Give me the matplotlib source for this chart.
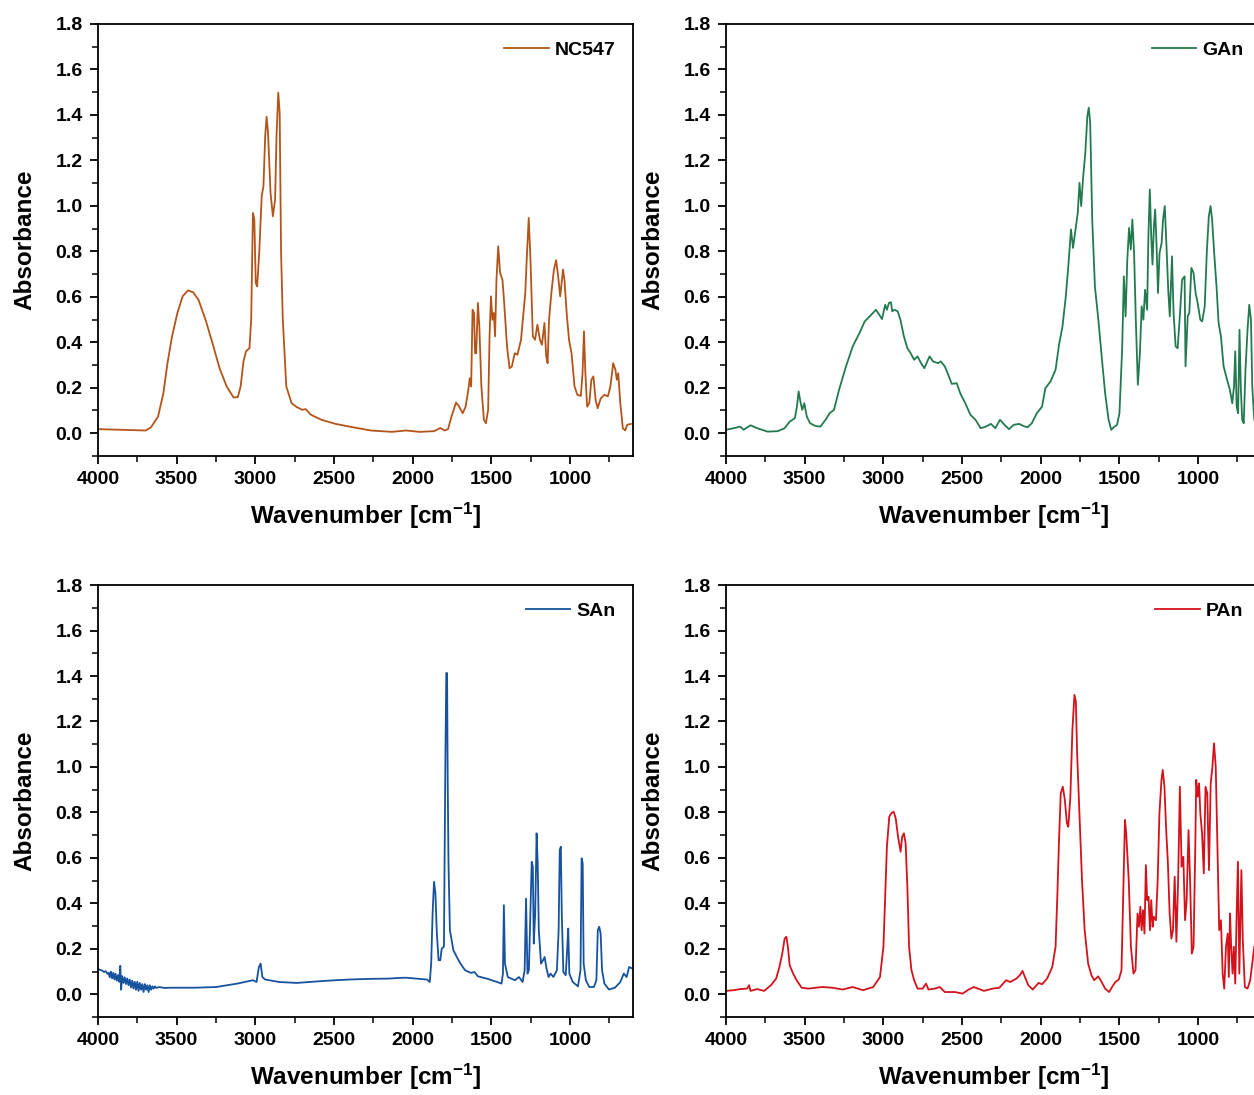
import matplotlib
matplotlib.use("Agg")
import matplotlib.pyplot as plt
from matplotlib.ticker import MultipleLocator

plt.rcParams['font.family'] = ['Liberation Sans', 'DejaVu Sans']
plt.rcParams['font.weight'] = 'bold'
plt.rcParams['mathtext.fontset'] = 'custom'
plt.rcParams['mathtext.rm'] = 'Liberation Sans:bold'
plt.rcParams['mathtext.bf'] = 'Liberation Sans:bold'
plt.rcParams['mathtext.default'] = 'bf'

# NC547 spectrum
nc547_wn = [4000, 3696, 3663, 3618, 3584, 3558, 3529, 3495, 3462, 3428, 3395, 3361, 3316, 3272, 3227,
            3182, 3138, 3111, 3093, 3075, 3059, 3037, 3026, 3015, 3006, 2997, 2988, 2975, 2959, 2948,
            2937, 2928, 2919, 2903, 2888, 2874, 2865, 2854, 2845, 2836, 2825, 2803, 2769, 2736, 2702,
            2680, 2646, 2579, 2490, 2378, 2266, 2132, 2043, 1954, 1864, 1824, 1797, 1775, 1753, 1724,
            1704, 1682, 1663, 1646, 1637, 1628, 1619, 1610, 1603, 1596, 1585, 1576, 1563, 1547, 1534,
            1520, 1511, 1502, 1493, 1484, 1476, 1467, 1456, 1444, 1429, 1418, 1400, 1384, 1369, 1351,
            1334, 1311, 1284, 1273, 1262, 1251, 1236, 1222, 1207, 1191, 1178, 1162, 1151, 1142, 1133,
            1118, 1102, 1088, 1075, 1062, 1044, 1035, 1021, 1006, 990, 971, 953, 931, 920, 911, 902,
            891, 877, 864, 851, 837, 824, 804, 781, 759, 743, 725, 711, 702, 693, 680, 664, 649, 636, 613]
nc547_abs = [0.018, 0.012, 0.026, 0.073, 0.176, 0.308, 0.426, 0.529, 0.602, 0.628, 0.620, 0.587, 0.499, 0.396, 0.286,
             0.206, 0.157, 0.159, 0.206, 0.316, 0.360, 0.374, 0.499, 0.969, 0.940, 0.661, 0.646, 0.793, 1.043, 1.087,
             1.307, 1.392, 1.322, 1.057, 0.954, 1.028, 1.307, 1.498, 1.410, 0.793, 0.499, 0.206, 0.132, 0.115, 0.103,
             0.106, 0.081, 0.059, 0.041, 0.026, 0.012, 0.006, 0.012, 0.006, 0.009, 0.023, 0.012, 0.018, 0.073, 0.135,
             0.117, 0.088, 0.117, 0.191, 0.242, 0.206, 0.543, 0.529, 0.352, 0.352, 0.573, 0.470, 0.206, 0.059, 0.044,
             0.103, 0.426, 0.602, 0.499, 0.529, 0.426, 0.675, 0.822, 0.705, 0.675, 0.573, 0.382, 0.286, 0.294, 0.352,
             0.345, 0.411, 0.617, 0.793, 0.947, 0.764, 0.426, 0.411, 0.477, 0.411, 0.389, 0.485, 0.338, 0.308, 0.499,
             0.617, 0.720, 0.761, 0.690, 0.602, 0.720, 0.675, 0.529, 0.411, 0.352, 0.206, 0.169, 0.164, 0.264, 0.448, 0.264,
             0.117, 0.132, 0.235, 0.250, 0.147, 0.110, 0.154, 0.169, 0.162, 0.206, 0.308, 0.279, 0.235, 0.264, 0.132, 0.022, 0.012, 0.037, 0.041]

# GAn spectrum
gan_wn = [4000, 3952, 3909, 3887, 3844, 3801, 3736, 3671, 3627, 3595, 3562, 3549, 3538, 3525, 3515, 3502,
          3486, 3465, 3432, 3400, 3367, 3341, 3313, 3281, 3237, 3194, 3151, 3118, 3086, 3047, 3025, 3008,
          2988, 2977, 2964, 2951, 2943, 2930, 2908, 2891, 2869, 2847, 2826, 2804, 2782, 2760, 2739, 2706,
          2684, 2652, 2635, 2609, 2587, 2565, 2533, 2511, 2479, 2446, 2414, 2381, 2349, 2316, 2288, 2258,
          2230, 2201, 2171, 2136, 2110, 2084, 2056, 2024, 1991, 1970, 1937, 1905, 1883, 1861, 1840, 1824,
          1807, 1794, 1781, 1764, 1753, 1742, 1731, 1716, 1703, 1694, 1685, 1672, 1655, 1633, 1612, 1590,
          1568, 1551, 1536, 1514, 1499, 1482, 1471, 1460, 1449, 1438, 1427, 1417, 1406, 1395, 1382, 1369,
          1358, 1347, 1336, 1323, 1315, 1306, 1297, 1289, 1280, 1272, 1263, 1254, 1244, 1231, 1222, 1211,
          1200, 1189, 1179, 1165, 1155, 1142, 1129, 1114, 1101, 1085, 1079, 1065, 1055, 1042, 1028, 1015,
          1002, 985, 973, 957, 944, 931, 920, 910, 897, 882, 869, 854, 837, 815, 797, 782, 771, 763, 754,
          745, 736, 728, 719, 709, 698, 685, 674, 663, 655, 642]
gan_abs = [0.015, 0.022, 0.029, 0.015, 0.035, 0.022, 0.007, 0.009, 0.022, 0.051, 0.066, 0.117, 0.184, 0.132, 0.103, 0.132,
           0.073, 0.044, 0.032, 0.029, 0.059, 0.088, 0.103, 0.191, 0.294, 0.382, 0.441, 0.492, 0.514, 0.543, 0.521, 0.502,
           0.565, 0.543, 0.573, 0.576, 0.536, 0.543, 0.536, 0.499, 0.426, 0.374, 0.352, 0.323, 0.338, 0.308, 0.286, 0.338,
           0.316, 0.308, 0.316, 0.294, 0.257, 0.217, 0.220, 0.176, 0.132, 0.081, 0.059, 0.022, 0.029, 0.041, 0.022, 0.059,
           0.037, 0.018, 0.037, 0.041, 0.032, 0.026, 0.044, 0.088, 0.117, 0.198, 0.228, 0.279, 0.389, 0.470, 0.602, 0.734,
           0.896, 0.815, 0.881, 0.969, 1.101, 0.999, 1.116, 1.233, 1.395, 1.432, 1.366, 0.940, 0.646, 0.499, 0.338, 0.176,
           0.059, 0.015, 0.026, 0.037, 0.088, 0.367, 0.690, 0.514, 0.764, 0.903, 0.808, 0.940, 0.793, 0.499, 0.213, 0.352,
           0.558, 0.499, 0.631, 0.543, 0.866, 1.072, 0.866, 0.742, 0.911, 0.984, 0.822, 0.617, 0.793, 0.837, 0.940, 0.999,
           0.822, 0.631, 0.514, 0.778, 0.529, 0.382, 0.374, 0.529, 0.675, 0.690, 0.294, 0.514, 0.529, 0.727, 0.705, 0.617,
           0.573, 0.499, 0.492, 0.558, 0.793, 0.954, 0.999, 0.940, 0.793, 0.646, 0.485, 0.426, 0.294, 0.235, 0.191, 0.132, 0.206, 0.360, 0.117,
           0.088, 0.455, 0.206, 0.059, 0.044, 0.279, 0.455, 0.565, 0.499, 0.206, 0.059]

# SAn spectrum
san_wn = [4000, 3990, 3975, 3960, 3950, 3940, 3932, 3925, 3918, 3910, 3902, 3895, 3888, 3880, 3872,
          3864, 3858, 3853, 3846, 3838, 3830, 3822, 3814, 3806, 3798, 3790, 3782, 3774, 3766, 3758,
          3750, 3742, 3734, 3726, 3718, 3710, 3702, 3694, 3686, 3678, 3670, 3662, 3654, 3646, 3638,
          3630, 3610, 3580, 3540, 3517, 3383, 3249, 3115, 3015, 2992, 2977, 2966, 2955, 2937, 2847, 2736, 2601, 2490,
          2400, 2266, 2155, 2088, 2043, 1976, 1909, 1891, 1882, 1873, 1864, 1855, 1846, 1835, 1824, 1815,
          1801, 1792, 1786, 1781, 1777, 1772, 1763, 1741, 1719, 1696, 1667, 1629, 1607, 1585, 1529, 1462,
          1435, 1426, 1420, 1413, 1395, 1350, 1324, 1301, 1288, 1279, 1270, 1261, 1252, 1243, 1236, 1230,
          1221, 1212, 1205, 1198, 1184, 1171, 1161, 1149, 1136, 1123, 1105, 1083, 1072, 1065, 1058, 1052,
          1042, 1027, 1018, 1011, 1004, 982, 949, 933, 926, 919, 913, 899, 877, 848, 832, 823, 814, 805,
          796, 781, 752, 714, 680, 658, 640, 624, 602]
san_abs = [0.113, 0.108, 0.105, 0.098, 0.102, 0.090, 0.095, 0.075, 0.100, 0.070, 0.095, 0.065, 0.090, 0.060, 0.085,
           0.055, 0.125, 0.020, 0.080, 0.050, 0.075, 0.045, 0.070, 0.040, 0.065, 0.030, 0.060, 0.025, 0.055, 0.020,
           0.055, 0.015, 0.050, 0.020, 0.045, 0.010, 0.045, 0.020, 0.040, 0.010, 0.040, 0.020, 0.035, 0.025, 0.035,
           0.028, 0.032, 0.028, 0.029, 0.029, 0.029, 0.032, 0.047, 0.062, 0.054, 0.120, 0.135, 0.076, 0.065, 0.054, 0.050, 0.057, 0.062,
           0.065, 0.068, 0.069, 0.072, 0.073, 0.069, 0.065, 0.054, 0.135, 0.355, 0.495, 0.443, 0.267, 0.150, 0.150, 0.201,
           0.209, 1.016, 1.413, 1.413, 0.943, 0.576, 0.282, 0.194, 0.164, 0.135, 0.106, 0.094, 0.098, 0.079, 0.069, 0.054,
           0.047, 0.091, 0.392, 0.135, 0.076, 0.062, 0.076, 0.054, 0.106, 0.421, 0.091, 0.106, 0.341, 0.583, 0.561, 0.223,
           0.355, 0.708, 0.576, 0.282, 0.135, 0.150, 0.164, 0.113, 0.076, 0.091, 0.076, 0.106, 0.282, 0.634, 0.649, 0.355,
           0.098, 0.084, 0.194, 0.289, 0.091, 0.054, 0.035, 0.106, 0.598, 0.576, 0.135, 0.062, 0.032, 0.032, 0.062, 0.282, 0.297, 0.267,
           0.106, 0.047, 0.021, 0.029, 0.054, 0.091, 0.076, 0.120, 0.113]

# PAn spectrum
pan_wn = [4000, 3952, 3909, 3866, 3853, 3844, 3801, 3757, 3714, 3681, 3660, 3642, 3627, 3616, 3606, 3595,
          3573, 3551, 3519, 3476, 3389, 3324, 3259, 3194, 3129, 3064, 3021, 2999, 2988, 2977, 2962, 2949,
          2934, 2921, 2906, 2890, 2880, 2869, 2858, 2847, 2836, 2821, 2804, 2782, 2750, 2728, 2713, 2674,
          2641, 2609, 2544, 2496, 2457, 2425, 2360, 2305, 2262, 2219, 2193, 2154, 2132, 2115, 2100, 2078,
          2050, 2013, 1991, 1959, 1926, 1905, 1894, 1883, 1872, 1859, 1846, 1833, 1824, 1811, 1798, 1785,
          1776, 1768, 1753, 1737, 1720, 1698, 1677, 1660, 1634, 1612, 1590, 1564, 1546, 1525, 1503, 1486,
          1473, 1464, 1456, 1440, 1426, 1410, 1397, 1384, 1375, 1366, 1358, 1349, 1340, 1331, 1323, 1314,
          1305, 1297, 1288, 1280, 1267, 1256, 1245, 1232, 1224, 1213, 1202, 1191, 1180, 1169, 1159, 1148,
          1137, 1126, 1115, 1104, 1093, 1082, 1072, 1060, 1050, 1039, 1028, 1017, 1011, 1002, 993, 985,
          974, 963, 952, 941, 930, 919, 908, 898, 887, 876, 865, 854, 843, 833, 822, 811, 804, 796, 789,
          780, 772, 763, 754, 746, 737, 724, 715, 702, 685, 668, 655, 642]
pan_abs = [0.015, 0.018, 0.023, 0.025, 0.040, 0.015, 0.023, 0.015, 0.040, 0.069, 0.120, 0.179, 0.245, 0.253, 0.209, 0.128,
           0.091, 0.062, 0.029, 0.025, 0.032, 0.029, 0.021, 0.032, 0.018, 0.032, 0.076, 0.209, 0.429, 0.649, 0.781, 0.796,
           0.803, 0.774, 0.693, 0.627, 0.693, 0.708, 0.664, 0.473, 0.209, 0.106, 0.062, 0.025, 0.025, 0.047, 0.021, 0.025,
           0.032, 0.010, 0.010, 0.003, 0.021, 0.032, 0.015, 0.025, 0.029, 0.062, 0.054, 0.069, 0.084, 0.103, 0.076, 0.040,
           0.021, 0.050, 0.044, 0.069, 0.120, 0.209, 0.429, 0.678, 0.884, 0.913, 0.855, 0.752, 0.737, 0.869, 1.163, 1.317,
           1.288, 1.060, 0.796, 0.502, 0.282, 0.135, 0.084, 0.062, 0.079, 0.054, 0.025, 0.010, 0.032, 0.054, 0.065, 0.106,
           0.502, 0.767, 0.708, 0.502, 0.209, 0.091, 0.106, 0.355, 0.297, 0.385, 0.282, 0.370, 0.267, 0.568, 0.414, 0.429,
           0.282, 0.414, 0.297, 0.341, 0.326, 0.502, 0.796, 0.943, 0.987, 0.913, 0.722, 0.576, 0.355, 0.245, 0.282, 0.517,
           0.231, 0.502, 0.913, 0.561, 0.605, 0.326, 0.414, 0.722, 0.502, 0.179, 0.209, 0.649, 0.943, 0.869, 0.928, 0.796,
           0.708, 0.532, 0.913, 0.884, 0.546, 0.928, 1.001, 1.104, 1.001, 0.649, 0.282, 0.326, 0.091, 0.025, 0.209, 0.267, 0.076, 0.355, 0.209,
           0.091, 0.209, 0.047, 0.355, 0.583, 0.091, 0.546, 0.238, 0.032, 0.025, 0.062, 0.135, 0.209]

panels = [
    (nc547_wn, nc547_abs, 'NC547', '#b3541a', [0.0781, 0.5836]),
    (gan_wn, gan_abs, 'GAn', '#237a4f', [0.5789, 0.5836]),
    (san_wn, san_abs, 'SAn', '#16529e', [0.0781, 0.0712]),
    (pan_wn, pan_abs, 'PAn', '#d3121c', [0.5789, 0.0712]),
]

fig = plt.figure(figsize=(12.54, 10.95), dpi=100)
for wn, ab, name, col, (x0, y0) in panels:
    ax = fig.add_axes([x0, y0, 0.4266, 0.3945])
    ax.plot(wn, ab, color=col, lw=1.3, label=name)
    ax.set_xlim(4000, 600)
    ax.set_ylim(-0.1, 1.8)
    ax.xaxis.set_minor_locator(MultipleLocator(250))
    ax.yaxis.set_minor_locator(MultipleLocator(0.1))
    ax.set_xticks([4000, 3500, 3000, 2500, 2000, 1500, 1000])
    ax.set_yticks([0.0, 0.2, 0.4, 0.6, 0.8, 1.0, 1.2, 1.4, 1.6, 1.8])
    ax.set_yticklabels(['%.1f' % v for v in ax.get_yticks()])
    ax.tick_params(which='major', direction='out', length=6, width=1.3, labelsize=14, pad=5)
    ax.tick_params(which='minor', direction='out', length=4, width=1.1)
    for lab in ax.get_xticklabels() + ax.get_yticklabels():
        lab.set_fontweight('bold')
    for sp in ax.spines.values():
        sp.set_linewidth(1.3)
    ax.set_xlabel('Wavenumber [cm$^{-1}$]', fontsize=17.5, fontweight='bold', labelpad=9)
    ax.set_ylabel('Absorbance', fontsize=17.5, fontweight='bold', labelpad=14)
    leg = ax.legend(loc='upper right', frameon=False, fontsize=14, handlelength=2.3,
                    handletextpad=0.3, borderaxespad=0.5)
    for t in leg.get_texts():
        t.set_fontweight('bold')

fig.savefig('out.png', dpi=100)
